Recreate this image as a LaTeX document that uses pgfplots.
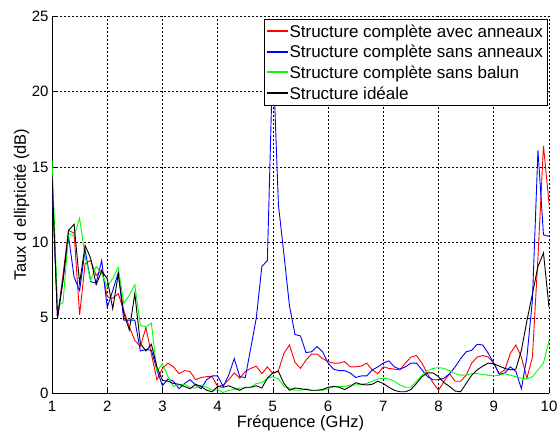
\documentclass[border=0pt]{standalone}
\usepackage{fontspec}
\setmainfont{Liberation Sans}
\usepackage{pgfplots}
\pgfplotsset{compat=1.18}
\newcommand{\chfont}{\fontsize{16.5bp}{19bp}\selectfont}
\newcommand{\tkfont}{\fontsize{15bp}{18bp}\selectfont}
\newcommand{\lgfont}{\fontsize{17bp}{20bp}\selectfont}
\definecolor{cR}{rgb}{1,0,0}
\definecolor{cB}{rgb}{0,0,1}
\definecolor{cG}{rgb}{0,1,0}
\definecolor{cK}{rgb}{0,0,0}
\begin{document}
\begin{tikzpicture}
\begin{axis}[
  scale only axis, width=497bp, height=377.3bp,
  xmin=1, xmax=10, ymin=0, ymax=25,
  xtick={1,2,3,4,5,6,7,8,9,10}, ytick={0,5,10,15,20,25},
  axis x line*=bottom, axis y line*=left,
  x axis line style={-}, y axis line style={-},
  axis line style={black, line width=0.8bp},
  tick align=inside, major tick length=5bp, tick style={black, line width=0.6bp},
  grid=major, major grid style={black, line width=0.6bp, dash pattern=on 2bp off 2bp},
  /pgf/number format/assume math mode=true,
  tick label style={font=\tkfont},
  xticklabel style={yshift=-4.7bp},
  label style={font=\chfont},
  xlabel={Fréquence (GHz)},
  xlabel style={at={(axis description cs:0.5,0)}, anchor=base, yshift=-34.5bp},
  ylabel={Taux d ellipticité (dB)},
  ylabel style={at={([xshift=-26bp]axis description cs:0,0.5)}, anchor=base},
  legend style={at={([xshift=-2bp,yshift=-3.3bp]axis description cs:1,1)}, anchor=north east,
    draw=black, fill=white, font=\lgfont,
    inner xsep=2bp, inner ysep=3bp, row sep=2.7bp, cells={anchor=west}},
  legend image code/.code={\fill[#1] (0bp,0bp) rectangle (20bp,1.1bp);},
  legend image post style={},
]
\coordinate (O) at (rel axis cs:0,0);
\addplot[cR, line width=0.9bp] coordinates {
(1.0,14.5)(1.1,5.0)(1.2,7.9)(1.3,10.8)(1.4,10.6)(1.5,5.2)(1.6,8.6)(1.7,8.8)(1.8,7.8)(1.9,8.2)
(2.0,6.4)(2.1,6.3)(2.2,6.6)(2.3,5.5)(2.4,4.4)(2.5,3.5)(2.6,3.1)(2.7,4.35)(2.8,2.6)(2.9,0.9)
(3.0,1.65)(3.1,2.0)(3.2,1.75)(3.3,1.3)(3.4,1.5)(3.5,1.45)(3.6,0.9)(3.7,1.05)(3.8,1.1)(3.9,1.1)
(4.0,0.45)(4.1,0.55)(4.2,0.9)(4.3,1.35)(4.4,1.0)(4.5,1.45)(4.6,1.65)(4.7,1.8)(4.8,1.3)(4.9,1.75)
(5.0,1.3)(5.1,1.5)(5.2,2.65)(5.3,3.2)(5.4,2.05)(5.5,1.65)(5.6,2.2)(5.7,2.6)(5.8,2.6)(5.9,2.3)
(6.0,2.1)(6.1,2.0)(6.2,2.0)(6.3,2.1)(6.4,1.75)(6.5,1.75)(6.6,1.8)(6.7,2.0)(6.8,1.55)(6.9,1.3)
(7.0,1.75)(7.1,1.65)(7.2,1.6)(7.3,1.55)(7.4,2.0)(7.5,2.4)(7.6,2.5)(7.7,2.0)(7.8,1.3)(7.9,0.7)
(8.0,0.2)(8.1,0.8)(8.2,1.3)(8.3,0.8)(8.4,0.8)(8.5,1.2)(8.6,2.0)(8.7,2.4)(8.8,2.5)(8.9,2.4)
(9.0,2.0)(9.1,1.3)(9.2,1.55)(9.3,2.65)(9.4,3.2)(9.5,2.4)(9.6,1.0)(9.7,2.4)(9.8,9.0)(9.9,16.4)(10.0,12.6)
};
\addlegendentry{Structure complète avec anneaux}
\addplot[cB, line width=0.9bp] coordinates {
(1.0,14.0)(1.1,5.0)(1.2,7.5)(1.3,10.4)(1.4,7.7)(1.5,6.8)(1.6,9.5)(1.7,7.4)(1.8,7.3)(1.9,8.8)
(2.0,5.7)(2.1,6.8)(2.2,8.0)(2.3,4.85)(2.4,4.85)(2.5,4.85)(2.6,2.8)(2.7,2.9)(2.8,2.85)(2.9,1.55)
(3.0,0.5)(3.1,0.95)(3.2,0.8)(3.3,0.3)(3.4,0.65)(3.5,0.9)(3.6,0.55)(3.7,0.3)(3.8,0.9)(3.9,1.15)
(4.0,1.15)(4.1,0.45)(4.2,1.2)(4.3,2.3)(4.4,1.1)(4.5,1.05)(4.6,3.0)(4.7,5.0)(4.8,8.4)(4.9,8.8)
(5.0,22.5)(5.1,12.5)(5.2,9.2)(5.3,5.8)(5.4,3.9)(5.5,3.8)(5.6,2.7)(5.7,2.75)(5.8,3.1)(5.9,2.75)
(6.0,2.0)(6.1,1.6)(6.2,1.5)(6.3,1.5)(6.4,1.35)(6.5,1.05)(6.6,1.15)(6.7,1.15)(6.8,1.55)(6.9,1.75)
(7.0,2.0)(7.1,2.15)(7.2,1.75)(7.3,1.6)(7.4,1.75)(7.5,2.0)(7.6,2.0)(7.7,1.55)(7.8,1.1)(7.9,0.9)
(8.0,0.9)(8.1,1.0)(8.2,1.3)(8.3,1.75)(8.4,2.3)(8.5,2.75)(8.6,2.85)(8.7,3.25)(8.8,3.2)(8.9,2.65)
(9.0,2.0)(9.1,1.25)(9.2,1.35)(9.3,1.75)(9.4,1.45)(9.5,0.3)(9.6,2.4)(9.7,6.2)(9.8,16.1)(9.9,10.5)(10.0,10.4)
};
\addlegendentry{Structure complète sans anneaux}
\addplot[cG, line width=0.9bp] coordinates {
(1.0,15.5)(1.1,5.8)(1.2,6.0)(1.3,10.6)(1.4,10.4)(1.5,11.6)(1.6,9.05)(1.7,7.5)(1.8,8.4)(1.9,7.95)
(2.0,7.05)(2.1,7.6)(2.2,8.35)(2.3,5.95)(2.4,6.5)(2.5,7.2)(2.6,4.5)(2.7,4.4)(2.8,4.65)(2.9,1.45)
(3.0,1.95)(3.1,1.1)(3.2,0.45)(3.3,0.55)(3.4,0.6)(3.5,0.4)(3.6,0.35)(3.7,0.55)(3.8,0.4)(3.9,0.2)
(4.0,0.25)(4.1,0.05)(4.2,0.2)(4.3,0.25)(4.4,0.35)(4.5,0.35)(4.6,0.4)(4.7,0.65)(4.8,0.7)(4.9,1.0)
(5.0,1.1)(5.1,0.95)(5.2,0.45)(5.3,0.35)(5.4,0.2)(5.5,0.2)(5.6,0.3)(5.7,0.2)(5.8,0.2)(5.9,0.2)
(6.0,0.3)(6.1,0.45)(6.2,0.45)(6.3,0.45)(6.4,0.55)(6.5,0.55)(6.6,0.6)(6.7,0.65)(6.8,0.8)(6.9,0.95)
(7.0,1.0)(7.1,0.95)(7.2,0.8)(7.3,0.55)(7.4,0.4)(7.5,0.4)(7.6,0.8)(7.7,1.2)(7.8,1.5)(7.9,1.65)
(8.0,1.7)(8.1,1.65)(8.2,1.5)(8.3,1.3)(8.4,1.2)(8.5,1.2)(8.6,1.3)(8.7,1.3)(8.8,1.25)(8.9,1.2)
(9.0,1.15)(9.1,1.2)(9.2,1.3)(9.3,1.2)(9.4,1.1)(9.5,1.0)(9.6,0.95)(9.7,1.1)(9.8,1.55)(9.9,2.0)(10.0,3.5)
};
\addlegendentry{Structure complète sans balun}
\addplot[cK, line width=0.9bp] coordinates {
(1.0,14.5)(1.1,5.0)(1.2,7.5)(1.3,10.8)(1.4,11.2)(1.5,7.3)(1.6,9.8)(1.7,8.95)(1.8,7.2)(1.9,8.1)
(2.0,7.6)(2.1,5.6)(2.2,7.9)(2.3,5.3)(2.4,4.2)(2.5,6.6)(2.6,3.3)(2.7,2.8)(2.8,3.25)(2.9,1.75)
(3.0,0.85)(3.1,0.8)(3.2,0.65)(3.3,0.6)(3.4,0.45)(3.5,0.3)(3.6,0.6)(3.7,0.45)(3.8,0.2)(3.9,0.1)
(4.0,0.45)(4.1,0.4)(4.2,0.5)(4.3,0.35)(4.4,0.2)(4.5,0.4)(4.6,0.4)(4.7,0.5)(4.8,0.35)(4.9,1.0)
(5.0,1.35)(5.1,1.45)(5.2,0.65)(5.3,0.2)(5.4,0.35)(5.5,0.3)(5.6,0.25)(5.7,0.2)(5.8,0.2)(5.9,0.25)
(6.0,0.4)(6.1,0.45)(6.2,0.4)(6.3,0.25)(6.4,0.45)(6.5,0.7)(6.6,0.6)(6.7,0.55)(6.8,0.6)(6.9,0.8)
(7.0,0.65)(7.1,0.4)(7.2,0.2)(7.3,0.1)(7.4,0.1)(7.5,0.25)(7.6,0.65)(7.7,1.1)(7.8,1.35)(7.9,1.35)
(8.0,1.1)(8.1,0.7)(8.2,0.45)(8.3,0.15)(8.4,0.1)(8.5,0.65)(8.6,1.2)(8.7,1.55)(8.8,1.8)(8.9,2.0)
(9.0,1.95)(9.1,1.8)(9.2,1.65)(9.3,1.55)(9.4,1.6)(9.5,2.85)(9.6,4.8)(9.7,6.6)(9.8,8.4)(9.9,9.3)(10.0,5.7)
};
\addlegendentry{Structure idéale}
\end{axis}
\pgfresetboundingbox
\path[use as bounding box] ([xshift=-52bp,yshift=-38.7bp]O) rectangle ++(558bp,432bp);
\end{tikzpicture}
\end{document}
